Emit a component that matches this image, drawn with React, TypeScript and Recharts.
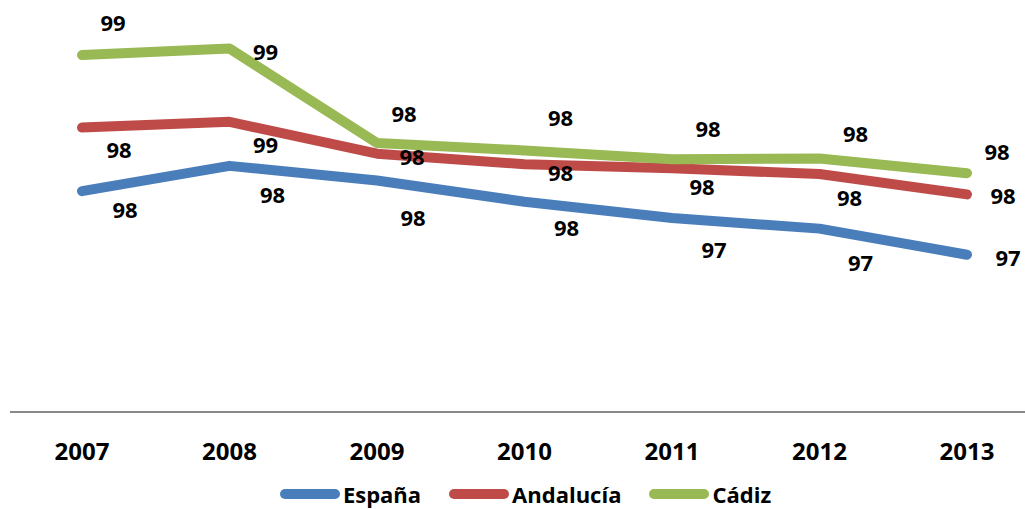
import { CartesianGrid, Legend, LabelList, Line, LineChart, XAxis, YAxis } from "recharts";

const years = ["2007", "2008", "2009", "2010", "2011", "2012", "2013"];
const espana = [97.71, 98.02, 97.84, 97.58, 97.38, 97.25, 96.93];
const andalucia = [98.49, 98.56, 98.17, 98.04, 97.99, 97.92, 97.67];
const cadiz = [99.38, 99.46, 98.3, 98.21, 98.1, 98.11, 97.93];
const seriesNames = ["España", "Andalucía", "Cádiz"];

// label offsets (dx, dy) per point, labels were hand-placed in the original
const espanaLabelPos = [[43, 18], [43, 28], [36, 36], [42, 25], [42, 31], [41, 33], [41, 2]];
const andaluciaLabelPos = [[37, 21], [36, 22], [35, 2], [36, 8], [30, 18], [30, 23], [36, 1]];
const cadizLabelPos = [[31, -33], [36, 2], [27, -30], [36, -33], [36, -31], [36, -26], [30, -22]];

const data = years.map((year, i) => ({
  year,
  espana: espana[i],
  andalucia: andalucia[i],
  cadiz: cadiz[i],
}));

const FONT = "'Open Sans', sans-serif";

function makeLabel(offsets: number[][]) {
  return (props: any) => {
    const { x, y, value, index } = props;
    const [dx, dy] = offsets[index] ?? [36, 0];
    return (
      <text
        x={x + dx}
        y={y + dy}
        textAnchor="middle"
        dominantBaseline="central"
        fontFamily={FONT}
        fontWeight={700}
        fontSize={22}
        fill="#000"
      >
        {Math.round(Number(value))}
      </text>
    );
  };
}

function YearTick(props: any) {
  const { x, y, payload } = props;
  return (
    <text
      x={x}
      y={y + 36}
      textAnchor="middle"
      dominantBaseline="central"
      fontFamily={FONT}
      fontWeight={700}
      fontSize={24}
      fill="#000"
    >
      {payload.value}
    </text>
  );
}

function LegendBox(props: any) {
  const items = [...(props.payload ?? [])].sort(
    (a: any, b: any) => seriesNames.indexOf(a.value) - seriesNames.indexOf(b.value)
  );
  return (
    <div
      style={{
        height: 37,
        paddingTop: 7,
        boxSizing: "border-box",
        display: "flex",
        justifyContent: "center",
        gap: 28,
        paddingLeft: 16,
        fontFamily: FONT,
        fontWeight: 700,
        fontSize: 22,
        lineHeight: "26px",
        color: "#000",
      }}
    >
      {items.map((it: any) => (
        <div key={it.value} style={{ display: "flex", alignItems: "center", gap: 3 }}>
          <span style={{ width: 60, height: 10, borderRadius: 5, background: it.color, display: "inline-block" }} />
          <span>{it.value}</span>
        </div>
      ))}
    </div>
  );
}

export default function App() {
  return (
    <div style={{ position: "absolute", left: 0, top: 0, width: 1025, height: 509, background: "#fff" }}>
      <LineChart width={1025} height={509} data={data} margin={{ top: 4.5, right: 0, bottom: 0, left: 10 }}>
        <CartesianGrid horizontal={false} vertical={false} />
        <XAxis
          dataKey="year"
          height={60}
          padding={{ left: 72, right: 58 }}
          axisLine={{ stroke: "#898989", strokeWidth: 2 }}
          tickLine={false}
          tickSize={0}
          tick={<YearTick />}
          interval={0}
        />
        <YAxis hide domain={[95, 100]} />
        <Legend verticalAlign="bottom" content={<LegendBox />} />
        <Line
          name={seriesNames[0]}
          dataKey="espana"
          stroke="#4A7EBB"
          strokeWidth={10}
          strokeLinecap="round"
          strokeLinejoin="round"
          dot={false}
          activeDot={false}
          isAnimationActive={false}
        >
          <LabelList dataKey="espana" content={makeLabel(espanaLabelPos)} />
        </Line>
        <Line
          name={seriesNames[1]}
          dataKey="andalucia"
          stroke="#BE4B48"
          strokeWidth={10}
          strokeLinecap="round"
          strokeLinejoin="round"
          dot={false}
          activeDot={false}
          isAnimationActive={false}
        >
          <LabelList dataKey="andalucia" content={makeLabel(andaluciaLabelPos)} />
        </Line>
        <Line
          name={seriesNames[2]}
          dataKey="cadiz"
          stroke="#98B954"
          strokeWidth={10}
          strokeLinecap="round"
          strokeLinejoin="round"
          dot={false}
          activeDot={false}
          isAnimationActive={false}
        >
          <LabelList dataKey="cadiz" content={makeLabel(cadizLabelPos)} />
        </Line>
      </LineChart>
    </div>
  );
}
